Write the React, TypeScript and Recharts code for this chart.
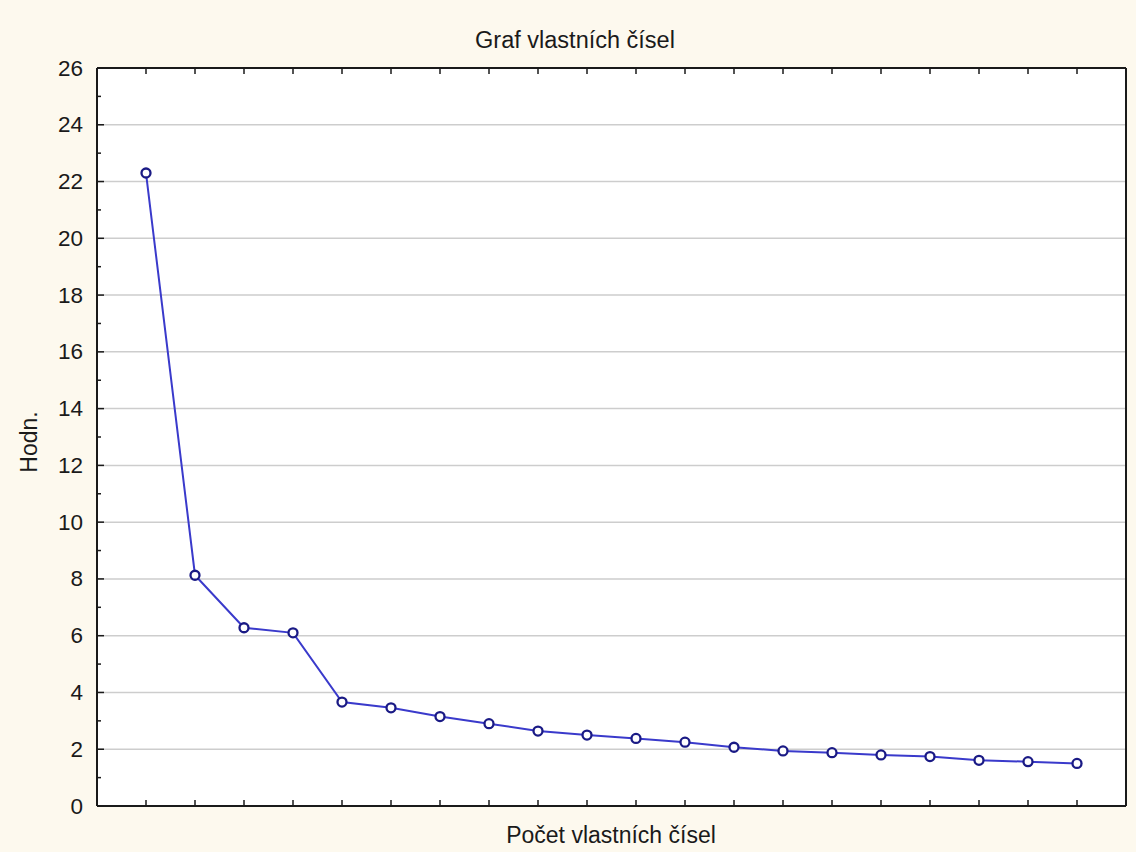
import React from "react";
import { LineChart, Line, XAxis, YAxis, CartesianGrid } from "recharts";

// vlastní čísla
const eigenIndex = [1, 2, 3, 4, 5, 6, 7, 8, 9, 10, 11, 12, 13, 14, 15, 16, 17, 18, 19, 20];
const eigenValues = [
  22.3, 8.13, 6.28, 6.1, 3.66, 3.46, 3.15, 2.9, 2.64, 2.5, 2.38, 2.25, 2.07, 1.94, 1.88, 1.8, 1.74, 1.61,
  1.56, 1.5,
];
const yTicks = [0, 1, 2, 3, 4, 5, 6, 7, 8, 9, 10, 11, 12, 13, 14, 15, 16, 17, 18, 19, 20, 21, 22, 23, 24, 25, 26];
const yMajor = [0, 2, 4, 6, 8, 10, 12, 14, 16, 18, 20, 22, 24, 26];
const xDomain = [0, 21];
const yDomain = [0, 26];

const FONT = "'Liberation Sans', Arial, sans-serif";
const INK = "#1a1a1a";

const data = eigenIndex.map((n, i) => ({ n, value: eigenValues[i] }));

const LeftTick = (props: any) => {
  const { x, y, payload } = props;
  const major = payload.value % 2 === 0;
  const ax = x + 14;
  return (
    <g>
      <line x1={ax} x2={ax + (major ? 7 : 4)} y1={y} y2={y} stroke={INK} strokeWidth={1.5} />
      {major && (
        <text x={x} y={y} textAnchor="end" dominantBaseline="central" fontSize={22.5} fontFamily={FONT} fill={INK}>
          {payload.value}
        </text>
      )}
    </g>
  );
};

const RightTick = (props: any) => {
  const { x, y, payload } = props;
  const major = payload.value % 2 === 0;
  return <line x1={x - (major ? 7 : 4)} x2={x} y1={y} y2={y} stroke={INK} strokeWidth={1.5} />;
};

const BottomTick = (props: any) => {
  const { x, y } = props;
  return <line x1={x} x2={x} y1={y} y2={y - 6} stroke={INK} strokeWidth={1.5} />;
};

const TopTick = (props: any) => {
  const { x, y } = props;
  return <line x1={x} x2={x} y1={y} y2={y + 6} stroke={INK} strokeWidth={1.5} />;
};

export default function App() {
  return (
    <div style={{ position: "absolute", left: 0, top: 0, width: 1136, height: 852, background: "#fdf9ee" }}>
      <LineChart width={1136} height={852} data={data} margin={{ top: 0, right: 0, bottom: 0, left: 0 }}>
        <CartesianGrid vertical={false} horizontalValues={yMajor} stroke="#cdcdcd" strokeWidth={1.5} fill="#ffffff" />
        <XAxis
          dataKey="n"
          type="number"
          domain={xDomain}
          ticks={eigenIndex}
          height={46}
          tickSize={0}
          tickMargin={0}
          tick={<BottomTick />}
          tickLine={false}
          axisLine={{ stroke: INK, strokeWidth: 2 }}
        />
        <XAxis
          xAxisId="top"
          orientation="top"
          dataKey="n"
          type="number"
          domain={xDomain}
          ticks={eigenIndex}
          height={68}
          tickSize={0}
          tickMargin={0}
          tick={<TopTick />}
          tickLine={false}
          axisLine={{ stroke: INK, strokeWidth: 2 }}
        />
        <YAxis
          type="number"
          domain={yDomain}
          ticks={yTicks}
          interval={0}
          width={97}
          tickSize={0}
          tickMargin={14}
          tick={<LeftTick />}
          tickLine={false}
          axisLine={{ stroke: INK, strokeWidth: 2 }}
        />
        <YAxis
          yAxisId="right"
          orientation="right"
          type="number"
          domain={yDomain}
          ticks={yTicks}
          interval={0}
          width={10}
          tickSize={0}
          tickMargin={0}
          tick={<RightTick />}
          tickLine={false}
          axisLine={{ stroke: INK, strokeWidth: 2 }}
        />
        <Line
          dataKey="value"
          stroke="#3a3acb"
          strokeWidth={2}
          dot={{ r: 4.5, stroke: "#1a1a85", strokeWidth: 2.3, fill: "#ffffff" }}
          isAnimationActive={false}
        />
      </LineChart>
      <svg width={1136} height={852} style={{ position: "absolute", left: 0, top: 0, pointerEvents: "none" }}>
        <text x={575} y={48} textAnchor="middle" fontSize={23.5} fontFamily={FONT} fill={INK}>
          Graf vlastních čísel
        </text>
        <text x={611} y={843} textAnchor="middle" fontSize={23} fontFamily={FONT} fill={INK}>
          Počet vlastních čísel
        </text>
        <text
          transform="translate(37,442) rotate(-90)"
          textAnchor="middle"
          fontSize={23}
          fontFamily={FONT}
          fill={INK}
        >
          Hodn.
        </text>
      </svg>
    </div>
  );
}
